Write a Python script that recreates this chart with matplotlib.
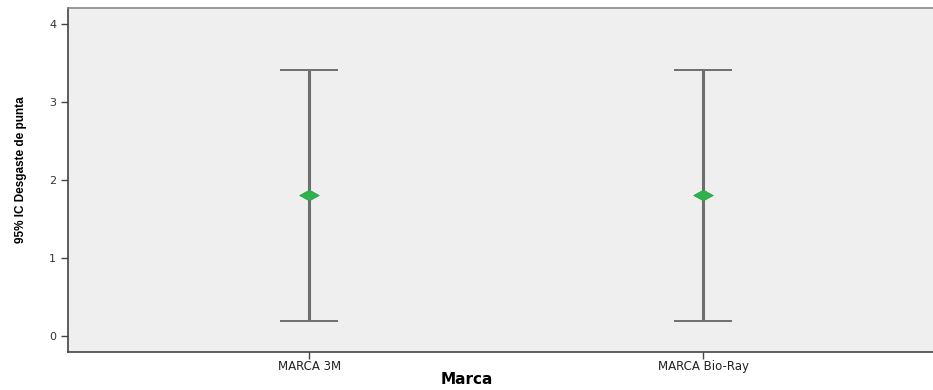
import numpy as np
import matplotlib.pyplot as plt
from matplotlib.path import Path

# Datos: media e IC 95% por marca
marcas = ['MARCA 3M', 'MARCA Bio-Ray']
media = [1.80, 1.80]
ic_inf = [0.19, 0.19]
ic_sup = [3.41, 3.41]

plt.rcParams['font.family'] = ['DejaVu Sans']

fig = plt.figure(figsize=(9.33, 3.9), dpi=100)
ax = fig.add_axes([0.0729, 0.0974, 0.93, 0.882])
ax.set_facecolor('#efefef')

x = np.arange(len(marcas))
media = np.array(media)
err = [media - np.array(ic_inf), np.array(ic_sup) - media]

ax.errorbar(x, media, yerr=err, fmt='none', ecolor='#6e6e6e', elinewidth=2.2,
            capsize=21, capthick=1.4, zorder=2)

# rombo aplanado
rombo = Path([(-1, 0), (0, 0.55), (1, 0), (0, -0.55), (-1, 0)],
             [Path.MOVETO, Path.LINETO, Path.LINETO, Path.LINETO, Path.CLOSEPOLY])
ax.scatter(x, media, marker=rombo, s=200, color='#2eb24b', edgecolors='#2a9c43',
           linewidths=0.5, zorder=3)

ax.set_xlim(-0.612, 1.59)
ax.set_ylim(-0.205, 4.2)
ax.set_xticks(x)
ax.set_xticklabels(marcas, fontsize=8.5, color='#222222')
ax.set_yticks([0, 1, 2, 3, 4])
ax.set_yticklabels(['0', '1', '2', '3', '4'], fontsize=8, color='#333333')
ax.tick_params(axis='both', length=5, width=1, color='#444444', direction='out')
ax.tick_params(axis='x', pad=0.5)

ax.set_ylabel('95% IC Desgaste de punta', fontsize=8.5, fontweight='bold',
              family='Liberation Sans')
ax.yaxis.set_label_coords(-0.047, 0.53)
ax.set_xlabel('Marca', fontsize=11, fontweight='bold')
ax.xaxis.set_label_coords(0.46, -0.058)

for s in ['left', 'bottom']:
    ax.spines[s].set_color('#444444')
    ax.spines[s].set_linewidth(1.2)
ax.spines['top'].set_color('#888888')
ax.spines['top'].set_linewidth(1.2)
ax.spines['right'].set_visible(False)

fig.savefig('out.png', dpi=100)
